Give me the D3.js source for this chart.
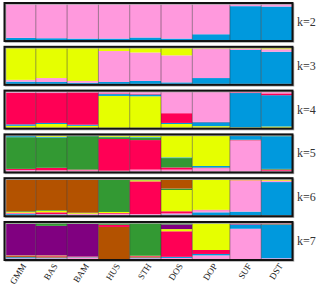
<!DOCTYPE html>
<html>
<head>
<meta charset="utf-8">
<script src="https://cdn.jsdelivr.net/npm/d3@7"></script>
<style>
  body { margin: 0; background: #fff; }
  svg { display: block; }
</style>
</head>
<body>
<div id="chart"></div>
<script>
const kWidth = 320;
const kHeight = 287;

const pops = ["GMM", "BAS", "BAM", "HUS", "STH", "DOS", "DOP", "SUF", "DST"];
const popSizes = [10, 10, 10, 10, 10, 10, 12, 10, 10];
const kLabels = ["k=2", "k=3", "k=4", "k=5", "k=6", "k=7"];

const colours = {
  pink: "#ff99dd", blue: "#0099dd", yellow: "#e6ff00", red: "#ff0055",
  green: "#339933", brown: "#b35200", purple: "#800080"
};

// cluster order bottom -> top, one row per population
const k2Order = ["blue", "pink"];
const k2 = [[0.06, 0.94], [0.05, 0.95], [0.04, 0.96], [0.04, 0.96], [0.07, 0.93],
            [0.04, 0.96], [0.16, 0.84], [0.94, 0.06], [0.93, 0.07]];

const k3Order = ["blue", "pink", "yellow"];
const k3 = [[0.06, 0.05, 0.89], [0.05, 0.11, 0.84], [0.03, 0.05, 0.92], [0.05, 0.86, 0.09],
            [0.08, 0.79, 0.13], [0.04, 0.75, 0.21], [0.16, 0.82, 0.02], [0.94, 0.04, 0.02],
            [0.89, 0.07, 0.04]];

const k4Order = ["yellow", "blue", "red", "pink"];
const k4 = [[0.05, 0.04, 0.88, 0.03], [0.10, 0.03, 0.83, 0.04], [0.05, 0.03, 0.90, 0.02],
            [0.88, 0.05, 0.02, 0.05], [0.87, 0.05, 0.02, 0.06], [0.10, 0.03, 0.27, 0.60],
            [0.04, 0.11, 0.01, 0.84], [0.01, 0.95, 0.02, 0.02], [0.03, 0.87, 0.05, 0.05]];

const k5Order = ["pink", "red", "green", "blue", "yellow"];
const k5 = [[0.04, 0.03, 0.88, 0.03, 0.02], [0.03, 0.07, 0.84, 0.02, 0.04],
            [0.03, 0.02, 0.93, 0.01, 0.01], [0.02, 0.88, 0.05, 0.01, 0.04],
            [0.05, 0.82, 0.06, 0.02, 0.05], [0.05, 0.06, 0.26, 0.02, 0.61],
            [0.09, 0.01, 0.01, 0.04, 0.85], [0.86, 0.01, 0.01, 0.11, 0.01],
            [0.02, 0.03, 0.02, 0.91, 0.02]];

const k6Order = ["blue", "pink", "red", "yellow", "green", "brown"];
const k6 = [[0.03, 0.02, 0.02, 0.02, 0.02, 0.89], [0.02, 0.01, 0.05, 0.04, 0.02, 0.86],
            [0.01, 0.02, 0.01, 0.02, 0.01, 0.93], [0.01, 0.03, 0.02, 0.03, 0.90, 0.01],
            [0.01, 0.02, 0.91, 0.03, 0.02, 0.01], [0.02, 0.03, 0.06, 0.59, 0.04, 0.26],
            [0.08, 0.06, 0.01, 0.84, 0.005, 0.005], [0.10, 0.86, 0.01, 0.02, 0.005, 0.005],
            [0.92, 0.03, 0.01, 0.03, 0.01, 0.00]];

const k7Order = ["pink", "blue", "brown", "red", "yellow", "purple", "green"];
const k7 = [[0.02, 0.03, 0.03, 0.01, 0.01, 0.88, 0.02], [0.02, 0.02, 0.03, 0.02, 0.01, 0.82, 0.08],
            [0.04, 0.01, 0.01, 0.01, 0.00, 0.91, 0.02], [0.00, 0.00, 0.89, 0.06, 0.00, 0.00, 0.05],
            [0.02, 0.02, 0.02, 0.02, 0.01, 0.00, 0.91], [0.03, 0.03, 0.00, 0.71, 0.06, 0.13, 0.04],
            [0.10, 0.04, 0.00, 0.11, 0.74, 0.00, 0.01], [0.84, 0.12, 0.00, 0.03, 0.00, 0.00, 0.01],
            [0.02, 0.94, 0.02, 0.02, 0.00, 0.00, 0.00]];

const panels = [
  { label: kLabels[0], order: k2Order, rows: k2 },
  { label: kLabels[1], order: k3Order, rows: k3 },
  { label: kLabels[2], order: k4Order, rows: k4 },
  { label: kLabels[3], order: k5Order, rows: k5 },
  { label: kLabels[4], order: k6Order, rows: k6 },
  { label: kLabels[5], order: k7Order, rows: k7 }
];

const svg = d3.select("#chart")
  .append("svg")
  .attr("width", kWidth)
  .attr("height", kHeight);

const cum = [0, ...d3.cumsum(popSizes)];
const total = d3.sum(popSizes);

const xScale = d3.scaleLinear()
  .domain([0, total])
  .range([4.5, 292.5]);

const panelScale = d3.scaleBand()
  .domain(kLabels)
  .range([3, 260])
  .paddingInner(0.132);

panels.forEach(panel => {
  const top = panelScale(panel.label);
  const bottom = top + panelScale.bandwidth();
  const g = svg.append("g");

  const yScale = d3.scaleLinear()
    .domain([0, 1])
    .range([bottom - 1, top + 1]);

  panel.rows.forEach((row, i) => {
    const sum = d3.sum(row);
    const ends = d3.cumsum(row.map(v => v / sum));
    const x0 = xScale(cum[i]);
    const x1 = xScale(cum[i + 1]);
    row.forEach((v, j) => {
      if (v <= 0) return;
      const y0 = j === 0 ? 0 : ends[j - 1];
      const y1 = ends[j];
      g.append("rect")
        .attr("x", x0)
        .attr("y", yScale(y1))
        .attr("width", x1 - x0)
        .attr("height", yScale(y0) - yScale(y1))
        .attr("fill", colours[panel.order[j]]);
    });
  });

  // separators between populations
  g.selectAll("line.sep")
    .data(cum.slice(1, -1))
    .enter()
    .append("line")
    .attr("x1", d => xScale(d))
    .attr("x2", d => xScale(d))
    .attr("y1", top)
    .attr("y2", bottom)
    .attr("stroke", "rgba(40,40,40,0.45)")
    .attr("stroke-width", 1);

  // shadow and frame
  g.append("rect")
    .attr("x", xScale(0) + 1)
    .attr("y", top + 1)
    .attr("width", xScale(total) - xScale(0))
    .attr("height", bottom - top)
    .attr("fill", "none")
    .attr("stroke", "#aaa")
    .attr("stroke-width", 1.5);

  g.append("rect")
    .attr("x", xScale(0))
    .attr("y", top)
    .attr("width", xScale(total) - xScale(0))
    .attr("height", bottom - top)
    .attr("fill", "none")
    .attr("stroke", "#111")
    .attr("stroke-width", 2);

  g.append("text")
    .attr("x", 297)
    .attr("y", (top + bottom) / 2 + 4)
    .attr("font-family", "'Liberation Serif', 'DejaVu Serif', serif")
    .attr("font-size", "12px")
    .attr("fill", "#333")
    .text(panel.label);
});

// population labels
const centres = pops.map((p, i) => (cum[i] + cum[i + 1]) / 2);

const xAxis = d3.axisBottom(xScale)
  .tickValues(centres)
  .tickSize(0)
  .tickFormat((d, i) => pops[i]);

const axisG = svg.append("g")
  .attr("transform", `translate(0, 264)`)
  .call(xAxis);

axisG.select(".domain").remove();

axisG.selectAll("text")
  .attr("font-family", "'Liberation Serif', 'DejaVu Serif', serif")
  .attr("font-size", "9px")
  .attr("fill", "#222")
  .attr("dy", 0)
  .attr("y", 0)
  .attr("x", 0)
  .attr("text-anchor", "end")
  .attr("transform", "translate(6, 2) rotate(-57)");
</script>
</body>
</html>
